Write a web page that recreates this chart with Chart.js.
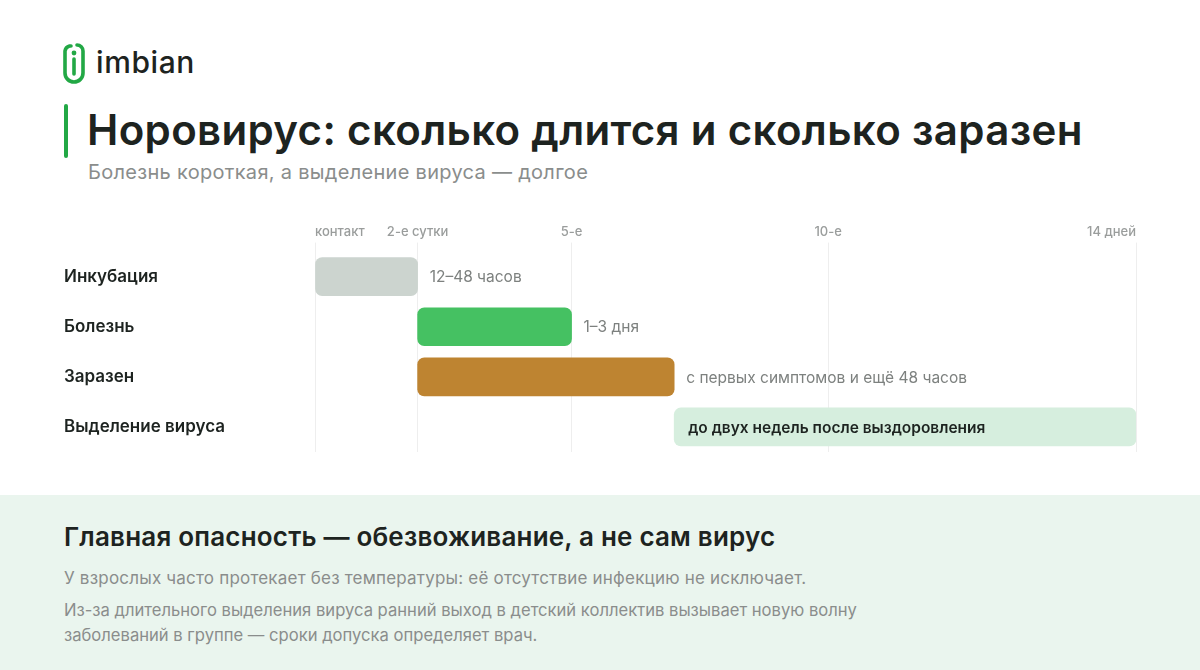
<!DOCTYPE html>
<html lang="ru">
<head>
<meta charset="utf-8">
<script src="https://cdn.jsdelivr.net/npm/chart.js@4.4.1/dist/chart.umd.min.js"></script>
<style>
  html, body { margin: 0; padding: 0; background: #fff; }
  body { width: 1200px; height: 670px; position: relative; overflow: hidden; font-family: Inter, "Open Sans", sans-serif; }
  .logo { position: absolute; left: 62px; top: 40px; display: flex; align-items: center; }
  .logo span { font-size: 30px; font-weight: 500; color: #1d2320; margin-left: 10px; letter-spacing: 0.6px; }
  .bar-accent { position: absolute; left: 64px; top: 104px; width: 4px; height: 54px; border-radius: 2px; background: #22a845; }
  h1 { position: absolute; left: 87px; top: 105px; margin: 0; font-size: 42px; font-weight: 600; color: #1d2320; letter-spacing: 0.35px; line-height: 50px; }
  .sub { position: absolute; left: 88px; top: 160px; font-size: 20px; color: #8a8d8c; letter-spacing: 0.3px; }
  .chart-box { position: absolute; left: 0; top: 210px; width: 1200px; height: 260px; }
  .panel { position: absolute; left: 0; top: 495px; width: 1200px; height: 175px; background: #eaf5ee; }
  .panel h2 { position: absolute; left: 64px; top: 22px; margin: 0; font-size: 26px; font-weight: 600; color: #1d2320; line-height: 40px; letter-spacing: 0.2px; }
  .panel p { position: absolute; left: 64px; margin: 0; font-size: 17px; color: #8a8d8c; line-height: 25px; letter-spacing: 0.2px; }
  .panel p.narrow { letter-spacing: 0; font-size: 16.6px; }
</style>
</head>
<body>
<div class="logo">
  <svg width="24" height="44" viewBox="0 0 24 44">
    <path d="M9 6 H7.5 A6 6 0 0 0 3 11 V33 A9 9 0 0 0 21 33 V11 A6 6 0 0 0 15 5" fill="none" stroke="#22a845" stroke-width="3.6" stroke-linecap="round"/>
    <circle cx="12" cy="13" r="2.4" fill="#22a845"/>
    <path d="M12 19 V34" fill="none" stroke="#22a845" stroke-width="3.6" stroke-linecap="round"/>
  </svg>
  <span>imbian</span>
</div>
<div class="bar-accent"></div>
<h1>Норовирус: сколько длится и сколько заразен</h1>
<div class="sub">Болезнь короткая, а выделение вируса — долгое</div>
<div class="chart-box"><canvas id="chart"></canvas></div>
<div class="panel">
  <h2>Главная опасность — обезвоживание, а не сам вирус</h2>
  <p style="top:71px">У взрослых часто протекает без температуры: её отсутствие инфекцию не исключает.</p>
  <p class="narrow" style="top:103px">Из-за длительного выделения вируса ранний выход в детский коллектив вызывает новую волну<br>заболеваний в группе — сроки допуска определяет врач.</p>
</div>
<script>
const stages = ['Инкубация', 'Болезнь', 'Заразен', 'Выделение вируса'];
const starts = [0, 2, 2, 7];
const ends = [2, 5, 7, 16];
const notes = ['12–48 часов', '1–3 дня', 'с первых симптомов и ещё 48 часов', 'до двух недель после выздоровления'];
const barColors = ['#ccd4cf', '#45c162', '#be8431', '#d6eede'];
const tickValues = [0, 2, 5, 10, 16];
const tickLabels = ['контакт', '2-е сутки', '5-е', '10-е', '14 дней'];

const FONT = 'Inter, "Open Sans", sans-serif';

const notesPlugin = {
  id: 'notes',
  afterDatasetsDraw(chart) {
    const { ctx } = chart;
    const meta = chart.getDatasetMeta(0);
    const x = chart.scales.x;
    ctx.save();
    ctx.textBaseline = 'middle';
    meta.data.forEach((bar, i) => {
      if (i === 3) {
        ctx.font = '600 15.5px ' + FONT;
        ctx.fillStyle = '#1d2320';
        ctx.fillText(notes[i], x.getPixelForValue(starts[i]) + 14, bar.y + 1);
      } else {
        ctx.font = '400 15.5px ' + FONT;
        ctx.fillStyle = '#7d817f';
        ctx.fillText(notes[i], x.getPixelForValue(ends[i]) + 12, bar.y + 1);
      }
    });
    ctx.restore();
  }
};

new Chart(document.getElementById('chart'), {
  type: 'bar',
  data: {
    labels: stages,
    datasets: [{
      data: stages.map((s, i) => [starts[i], ends[i]]),
      backgroundColor: barColors,
      borderRadius: 7,
      borderSkipped: false,
      barThickness: 38,
    }]
  },
  options: {
    indexAxis: 'y',
    responsive: true,
    maintainAspectRatio: false,
    animation: false,
    layout: { padding: { left: 64, right: 64, top: 11, bottom: 18 } },
    plugins: {
      legend: { display: false },
      tooltip: { enabled: false },
    },
    scales: {
      x: {
        position: 'top',
        min: 0,
        max: 16,
        afterBuildTicks: (scale) => {
          scale.ticks = tickValues.map(v => ({ value: v }));
        },
        border: { display: false },
        grid: { color: '#eeeeee', lineWidth: 1, tickLength: 9 },
        ticks: {
          align: 'inner',
          maxRotation: 0,
          autoSkip: false,
          padding: 3,
          color: '#9a9d9c',
          font: { family: FONT, size: 13, weight: '500' },
          callback: (v) => tickLabels[tickValues.indexOf(v)],
        }
      },
      y: {
        border: { display: false },
        grid: { display: false },
        afterFit: (scale) => { scale.width = 251; },
        ticks: {
          crossAlign: 'far',
          color: '#1d2320',
          font: { family: FONT, size: 17, weight: '600' },
        }
      }
    }
  },
  plugins: [notesPlugin]
});
</script>
</body>
</html>
